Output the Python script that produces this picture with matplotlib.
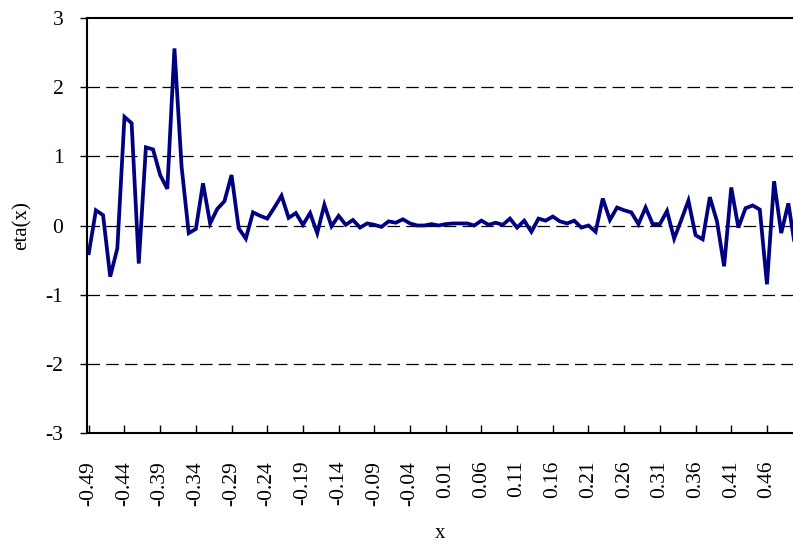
import numpy as np
import matplotlib.pyplot as plt

plt.rcParams['font.family'] = ['Liberation Serif', 'DejaVu Serif']

# x runs from -0.49 to 0.50 in steps of 0.01 (category axis)
x_labels = [f'{v:.2f}' for v in np.round(np.arange(-0.49, 0.501, 0.01), 2)]

eta = [
    -0.40, 0.22, 0.15, -0.74, -0.33, 1.57, 1.48, -0.55, 1.13, 1.10,
    0.73, 0.53, 2.56, 0.85, -0.11, -0.05, 0.61, 0.03, 0.24, 0.35,
    0.73, -0.04, -0.19, 0.19, 0.14, 0.10, 0.26, 0.43, 0.11, 0.18,
    0.01, 0.18, -0.11, 0.30, -0.01, 0.14, 0.01, 0.08, -0.03, 0.03,
    0.01, -0.02, 0.06, 0.04, 0.09, 0.03, 0.00, 0.00, 0.02, 0.00,
    0.02, 0.03, 0.03, 0.03, 0.00, 0.07, 0.01, 0.04, 0.01, 0.10,
    -0.03, 0.07, -0.09, 0.10, 0.07, 0.13, 0.06, 0.03, 0.07, -0.03,
    0.00, -0.09, 0.39, 0.08, 0.26, 0.22, 0.19, 0.02, 0.26, 0.02,
    0.02, 0.21, -0.19, 0.08, 0.36, -0.14, -0.20, 0.41, 0.06, -0.59,
    0.55, -0.03, 0.25, 0.29, 0.23, -0.85, 0.64, -0.11, 0.32, -0.35,
]

idx = np.arange(len(eta))

fig = plt.figure(figsize=(7.93, 5.46), dpi=100)
ax = fig.add_axes([87 / 793, 113 / 546, 1 - 87 / 793, 415 / 546])

ax.plot(idx, eta, color='#000080', lw=2.7, solid_joinstyle='miter')

ax.set_ylim(-3, 3)
ax.set_xlim(-0.25, 98.65)
ax.set_yticks(range(-3, 4))
ax.set_yticklabels([str(v) for v in range(-3, 4)])

tick_pos = idx[::5]
ax.set_xticks(tick_pos)
ax.set_xticklabels([x_labels[i] for i in tick_pos], rotation=90)

for yv in [-2, -1, 0, 1, 2]:
    ax.axhline(yv, color='black', lw=0.9, ls=(0, (10, 5)), zorder=0)

ax.spines['right'].set_visible(False)
for s in ['left', 'bottom', 'top']:
    ax.spines[s].set_linewidth(1.5)

ax.tick_params(axis='x', direction='in', length=6, width=1, pad=20, labelsize=15.5)
ax.tick_params(axis='y', direction='out', length=5, width=1, pad=12, labelsize=15.5)

ax.set_ylabel('eta(x)', fontsize=15, labelpad=10)
ax.set_xlabel('x', fontsize=15, labelpad=13)

fig.savefig('out.png', dpi=100)
